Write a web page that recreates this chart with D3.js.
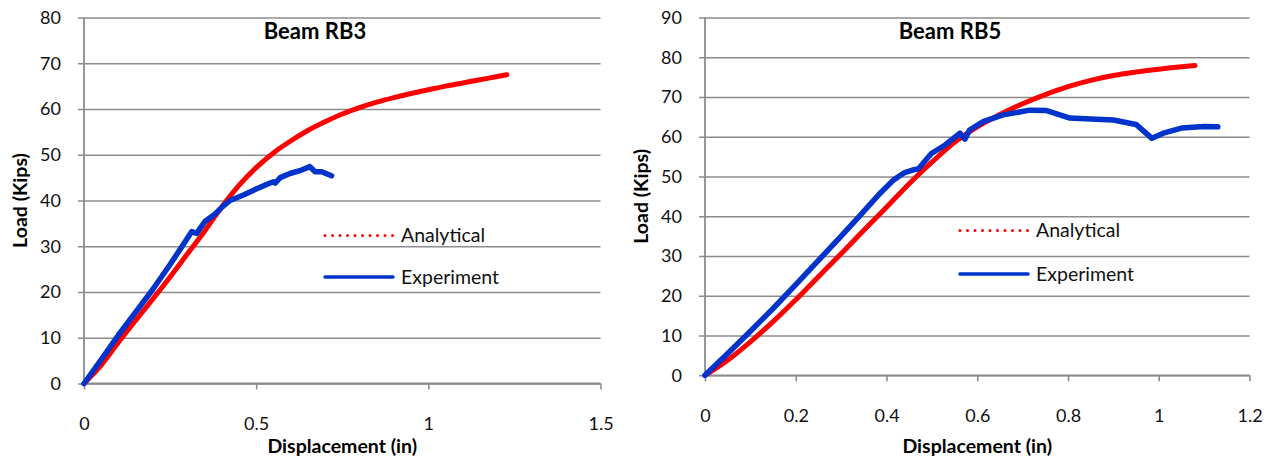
<!DOCTYPE html>
<html>
<head>
<meta charset="utf-8">
<script src="https://cdn.jsdelivr.net/npm/d3@7"></script>
<style>
  html, body { margin: 0; padding: 0; background: #fff; }
  svg { display: block; font-family: Lato, "Open Sans", sans-serif; }
</style>
</head>
<body>
<svg id="chart" width="1274" height="463"></svg>
<script>
// ---------- DATA ----------
const seriesNames = ["Analytical", "Experiment"];

// Beam RB3
const rb3Title = "Beam RB3";
const rb3XTicks = [0, 0.5, 1, 1.5];
const rb3YTicks = [0, 10, 20, 30, 40, 50, 60, 70, 80];
const rb3AnalyticalDisp = [0, 0.05, 0.1, 0.15, 0.2, 0.25, 0.3, 0.35, 0.4, 0.45, 0.5, 0.55, 0.6, 0.65, 0.7, 0.75, 0.8, 0.85, 0.9, 0.95, 1.0, 1.05, 1.1, 1.15, 1.2, 1.228];
const rb3AnalyticalLoad = [0, 4.0, 9.0, 13.8, 18.5, 23.3, 28.3, 33.3, 38.6, 43.3, 47.2, 50.4, 53.0, 55.3, 57.2, 58.9, 60.3, 61.5, 62.5, 63.4, 64.2, 65.0, 65.7, 66.4, 67.1, 67.5];
const rb3ExperimentDisp = [0, 0.05, 0.1, 0.15, 0.2, 0.25, 0.285, 0.313, 0.327, 0.351, 0.38, 0.4, 0.424, 0.463, 0.5, 0.53, 0.55, 0.555, 0.57, 0.598, 0.63, 0.656, 0.671, 0.69, 0.719];
const rb3ExperimentLoad = [0, 5.2, 10.6, 15.6, 20.6, 26.0, 30.0, 33.2, 32.8, 35.4, 37.0, 38.5, 40.0, 41.2, 42.5, 43.5, 44.1, 43.8, 45.0, 45.9, 46.6, 47.4, 46.3, 46.3, 45.4];

// Beam RB5
const rb5Title = "Beam RB5";
const rb5XTicks = [0, 0.2, 0.4, 0.6, 0.8, 1, 1.2];
const rb5YTicks = [0, 10, 20, 30, 40, 50, 60, 70, 80, 90];
const rb5AnalyticalDisp = [0, 0.05, 0.1, 0.15, 0.2, 0.25, 0.3, 0.35, 0.4, 0.45, 0.5, 0.55, 0.6, 0.65, 0.7, 0.75, 0.8, 0.85, 0.9, 0.95, 1.0, 1.05, 1.08];
const rb5AnalyticalLoad = [0, 3.8, 8.4, 13.5, 19.0, 24.8, 30.6, 36.5, 42.3, 48.2, 53.6, 58.6, 62.5, 65.6, 68.3, 70.6, 72.6, 74.2, 75.4, 76.3, 77.0, 77.6, 77.9];
const rb5ExperimentDisp = [0, 0.05, 0.1, 0.15, 0.2, 0.25, 0.3, 0.34, 0.386, 0.415, 0.44, 0.459, 0.47, 0.499, 0.53, 0.562, 0.573, 0.583, 0.613, 0.657, 0.716, 0.753, 0.782, 0.804, 0.85, 0.9, 0.95, 0.985, 1.01, 1.05, 1.1, 1.13];
const rb5ExperimentLoad = [0, 5.5, 11.1, 16.8, 22.8, 28.9, 35.0, 40.0, 45.8, 49.1, 51.0, 51.7, 51.9, 55.8, 58.0, 60.9, 59.4, 61.7, 63.8, 65.5, 66.7, 66.6, 65.5, 64.7, 64.5, 64.2, 63.1, 59.6, 60.9, 62.2, 62.6, 62.5];

// ---------- DRAWING ----------
const svg = d3.select("#chart");
const red = "#ff0000", blue = "#0033cc", grid = "#8c8c8c";

function zip(xs, ys) { return xs.map((x, i) => ({ x, y: ys[i] })); }

function drawChart(cfg) {
  const g = svg.append("g");
  const x = d3.scaleLinear().domain([cfg.xTicks[0], cfg.xTicks[cfg.xTicks.length - 1]]).range([cfg.left, cfg.right]);
  const y = d3.scaleLinear().domain([cfg.yTicks[0], cfg.yTicks[cfg.yTicks.length - 1]]).range([cfg.bottom, cfg.top]);

  // horizontal gridlines + y ticks
  const yAxis = d3.axisLeft(y).tickValues(cfg.yTicks).tickSize(-(cfg.right - cfg.left)).tickSizeOuter(0).tickPadding(23).tickFormat(d3.format("d"));
  const ya = g.append("g").attr("transform", `translate(${cfg.left},0)`).call(yAxis);
  ya.select(".domain").remove();
  ya.selectAll(".tick line").attr("stroke", grid).attr("stroke-width", 1.6).attr("x1", -6);
  ya.selectAll(".tick text").attr("font-size", 18).attr("fill", "#111").attr("font-family", "Lato, sans-serif");

  // y axis line
  g.append("line").attr("x1", cfg.left).attr("x2", cfg.left).attr("y1", cfg.top).attr("y2", cfg.bottom)
    .attr("stroke", grid).attr("stroke-width", 1.8);

  // x axis
  const xAxis = d3.axisBottom(x).tickValues(cfg.xTicks).tickSize(6).tickSizeOuter(0).tickPadding(28).tickFormat(d => String(d));
  const xa = g.append("g").attr("transform", `translate(0,${cfg.bottom})`).call(xAxis);
  xa.select(".domain").attr("stroke", grid).attr("stroke-width", 1.8).attr("d", `M${cfg.left},0H${cfg.right}`);
  xa.selectAll(".tick line").attr("stroke", grid).attr("stroke-width", 1.6);
  xa.selectAll(".tick text").attr("font-size", 18).attr("fill", "#111").attr("font-family", "Lato, sans-serif");

  // series
  g.append("path").datum(zip(cfg.aDisp, cfg.aLoad))
    .attr("fill", "none").attr("stroke", red).attr("stroke-width", 5)
    .attr("stroke-linejoin", "round").attr("stroke-linecap", "round")
    .attr("d", d3.line().x(d => x(d.x)).y(d => y(d.y)).curve(d3.curveMonotoneX));
  g.append("path").datum(zip(cfg.eDisp, cfg.eLoad))
    .attr("fill", "none").attr("stroke", blue).attr("stroke-width", 5.5)
    .attr("stroke-linejoin", "round").attr("stroke-linecap", "round")
    .attr("d", d3.line().x(d => x(d.x)).y(d => y(d.y)));

  // title
  g.append("text").attr("x", cfg.titleX).attr("y", 39).attr("text-anchor", "middle")
    .attr("font-size", 22).attr("font-weight", "bold").attr("fill", "#000").text(cfg.title);

  // axis titles
  g.append("text").attr("x", (cfg.left + cfg.right) / 2).attr("y", 453).attr("text-anchor", "middle")
    .attr("font-size", 19.5).attr("font-weight", "bold").attr("fill", "#000").text("Displacement (in)");
  g.append("text").attr("transform", `translate(${cfg.yTitleX},${(cfg.top + cfg.bottom) / 2}) rotate(-90)`)
    .attr("text-anchor", "middle").attr("font-size", 19.5).attr("font-weight", "bold").attr("fill", "#000").text("Load (Kips)");

  // legend
  const lg = g.append("g");
  lg.append("line").attr("x1", cfg.legX).attr("x2", cfg.legX + 68).attr("y1", cfg.legY1).attr("y2", cfg.legY1)
    .attr("stroke", red).attr("stroke-width", 3).attr("stroke-dasharray", "0 7.5").attr("stroke-linecap", "round");
  lg.append("text").attr("x", cfg.legX + 76).attr("y", cfg.legY1 + 6.5).attr("font-size", 19.5).attr("fill", "#111").text(seriesNames[0]);
  lg.append("line").attr("x1", cfg.legX).attr("x2", cfg.legX + 68).attr("y1", cfg.legY2).attr("y2", cfg.legY2)
    .attr("stroke", blue).attr("stroke-width", 3.5).attr("stroke-linecap", "round");
  lg.append("text").attr("x", cfg.legX + 76).attr("y", cfg.legY2 + 6.5).attr("font-size", 19.5).attr("fill", "#111").text(seriesNames[1]);
}

drawChart({
  title: rb3Title, xTicks: rb3XTicks, yTicks: rb3YTicks,
  aDisp: rb3AnalyticalDisp, aLoad: rb3AnalyticalLoad, eDisp: rb3ExperimentDisp, eLoad: rb3ExperimentLoad,
  left: 84, right: 600.5, top: 17.5, bottom: 383.5,
  titleX: 315, yTitleX: 26.5, legX: 325, legY1: 235.5, legY2: 277
});
drawChart({
  title: rb5Title, xTicks: rb5XTicks, yTicks: rb5YTicks,
  aDisp: rb5AnalyticalDisp, aLoad: rb5AnalyticalLoad, eDisp: rb5ExperimentDisp, eLoad: rb5ExperimentLoad,
  left: 705, right: 1249.5, top: 17.5, bottom: 375.3,
  titleX: 950, yTitleX: 648, legX: 960, legY1: 230.5, legY2: 274
});
</script>
</body>
</html>
